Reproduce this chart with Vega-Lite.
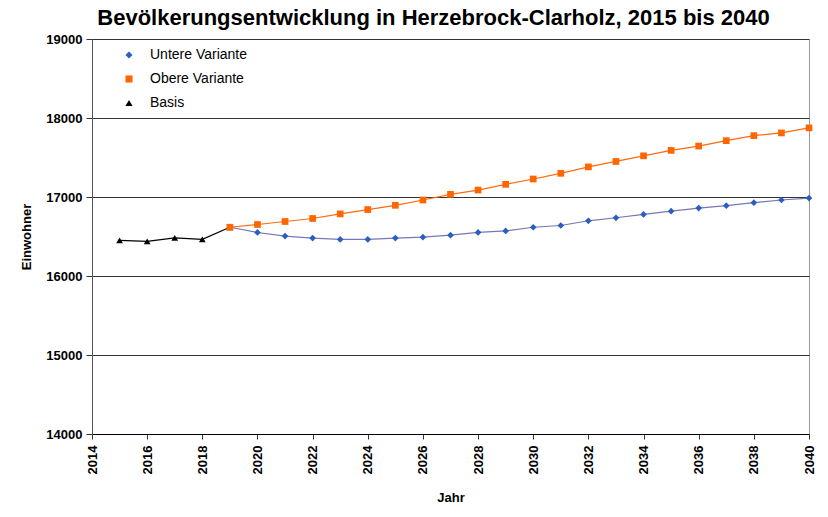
{
  "$schema": "https://vega.github.io/schema/vega-lite/v6.json",
  "width": 717,
  "height": 395,
  "autosize": {"type": "none"},
  "padding": {"left": 92, "top": 39, "right": 19, "bottom": 83},
  "background": "white",
  "title": {
    "text": "Bevölkerungsentwicklung in Herzebrock-Clarholz, 2015 bis 2040",
    "font": "Liberation Sans",
    "fontSize": 22,
    "fontWeight": "bold",
    "color": "#000",
    "anchor": "middle",
    "dx": -17,
    "offset": 3
  },
  "config": {
    "font": "Liberation Sans",
    "view": {"stroke": "#999", "strokeWidth": 1},
    "axis": {
      "labelFont": "Liberation Sans",
      "labelFontWeight": "bold",
      "labelFontSize": 13,
      "labelColor": "#000",
      "titleFont": "Liberation Sans",
      "titleFontWeight": "bold",
      "titleFontSize": 13,
      "titleColor": "#000",
      "domainColor": "#333",
      "tickColor": "#333"
    }
  },
  "data": {
    "values": [
      {"Jahr": 2015, "Serie": "Basis", "Einwohner": 16451},
      {"Jahr": 2016, "Serie": "Basis", "Einwohner": 16438},
      {"Jahr": 2017, "Serie": "Basis", "Einwohner": 16483},
      {"Jahr": 2018, "Serie": "Basis", "Einwohner": 16463},
      {"Jahr": 2019, "Serie": "Basis", "Einwohner": 16617},
      {"Jahr": 2019, "Serie": "Untere Variante", "Einwohner": 16617},
      {"Jahr": 2020, "Serie": "Untere Variante", "Einwohner": 16551},
      {"Jahr": 2021, "Serie": "Untere Variante", "Einwohner": 16505},
      {"Jahr": 2022, "Serie": "Untere Variante", "Einwohner": 16480},
      {"Jahr": 2023, "Serie": "Untere Variante", "Einwohner": 16463},
      {"Jahr": 2024, "Serie": "Untere Variante", "Einwohner": 16463},
      {"Jahr": 2025, "Serie": "Untere Variante", "Einwohner": 16480},
      {"Jahr": 2026, "Serie": "Untere Variante", "Einwohner": 16492},
      {"Jahr": 2027, "Serie": "Untere Variante", "Einwohner": 16517},
      {"Jahr": 2028, "Serie": "Untere Variante", "Einwohner": 16551},
      {"Jahr": 2029, "Serie": "Untere Variante", "Einwohner": 16570},
      {"Jahr": 2030, "Serie": "Untere Variante", "Einwohner": 16617},
      {"Jahr": 2031, "Serie": "Untere Variante", "Einwohner": 16639},
      {"Jahr": 2032, "Serie": "Untere Variante", "Einwohner": 16699},
      {"Jahr": 2033, "Serie": "Untere Variante", "Einwohner": 16737},
      {"Jahr": 2034, "Serie": "Untere Variante", "Einwohner": 16779},
      {"Jahr": 2035, "Serie": "Untere Variante", "Einwohner": 16821},
      {"Jahr": 2036, "Serie": "Untere Variante", "Einwohner": 16860},
      {"Jahr": 2037, "Serie": "Untere Variante", "Einwohner": 16890},
      {"Jahr": 2038, "Serie": "Untere Variante", "Einwohner": 16928},
      {"Jahr": 2039, "Serie": "Untere Variante", "Einwohner": 16962},
      {"Jahr": 2040, "Serie": "Untere Variante", "Einwohner": 16987},
      {"Jahr": 2019, "Serie": "Obere Variante", "Einwohner": 16617},
      {"Jahr": 2020, "Serie": "Obere Variante", "Einwohner": 16652},
      {"Jahr": 2021, "Serie": "Obere Variante", "Einwohner": 16690},
      {"Jahr": 2022, "Serie": "Obere Variante", "Einwohner": 16728},
      {"Jahr": 2023, "Serie": "Obere Variante", "Einwohner": 16786},
      {"Jahr": 2024, "Serie": "Obere Variante", "Einwohner": 16841},
      {"Jahr": 2025, "Serie": "Obere Variante", "Einwohner": 16895},
      {"Jahr": 2026, "Serie": "Obere Variante", "Einwohner": 16962},
      {"Jahr": 2027, "Serie": "Obere Variante", "Einwohner": 17034},
      {"Jahr": 2028, "Serie": "Obere Variante", "Einwohner": 17088},
      {"Jahr": 2029, "Serie": "Obere Variante", "Einwohner": 17160},
      {"Jahr": 2030, "Serie": "Obere Variante", "Einwohner": 17228},
      {"Jahr": 2031, "Serie": "Obere Variante", "Einwohner": 17300},
      {"Jahr": 2032, "Serie": "Obere Variante", "Einwohner": 17381},
      {"Jahr": 2033, "Serie": "Obere Variante", "Einwohner": 17450},
      {"Jahr": 2034, "Serie": "Obere Variante", "Einwohner": 17521},
      {"Jahr": 2035, "Serie": "Obere Variante", "Einwohner": 17590},
      {"Jahr": 2036, "Serie": "Obere Variante", "Einwohner": 17645},
      {"Jahr": 2037, "Serie": "Obere Variante", "Einwohner": 17713},
      {"Jahr": 2038, "Serie": "Obere Variante", "Einwohner": 17777},
      {"Jahr": 2039, "Serie": "Obere Variante", "Einwohner": 17811},
      {"Jahr": 2040, "Serie": "Obere Variante", "Einwohner": 17875}
    ]
  },
  "encoding": {
    "x": {
      "field": "Jahr",
      "type": "quantitative",
      "scale": {"domain": [2014, 2040], "nice": false, "zero": false},
      "axis": {
        "title": "Jahr",
        "values": [2014, 2016, 2018, 2020, 2022, 2024, 2026, 2028, 2030, 2032, 2034, 2036, 2038, 2040],
        "format": "d",
        "labelAngle": -90,
        "grid": false,
        "tickSize": 5,
        "labelPadding": 6,
        "titlePadding": 18,
        "domainColor": "#000"
      }
    },
    "y": {
      "field": "Einwohner",
      "type": "quantitative",
      "scale": {"domain": [14000, 19000], "nice": false, "zero": false},
      "axis": {
        "title": "Einwohner",
        "values": [14000, 15000, 16000, 17000, 18000, 19000],
        "format": "d",
        "grid": true,
        "gridColor": "#333",
        "gridOpacity": 1,
        "tickSize": 6,
        "labelPadding": 4,
        "titlePadding": 12,
        "domainColor": "#555"
      }
    }
  },
  "layer": [
    {
      "transform": [{"filter": "datum.Serie === 'Untere Variante'"}],
      "mark": {"type": "line", "strokeWidth": 1.2, "color": "#7676b8"},
      "encoding": {}
    },
    {
      "transform": [{"filter": "datum.Serie === 'Obere Variante'"}],
      "mark": {"type": "line", "strokeWidth": 1.2, "color": "#ff6a10"},
      "encoding": {}
    },
    {
      "transform": [{"filter": "datum.Serie === 'Basis'"}],
      "mark": {"type": "line", "strokeWidth": 1.2, "color": "#000000"},
      "encoding": {}
    },
    {
      "mark": {"type": "point", "filled": true, "opacity": 1},
      "encoding": {
        "color": {
          "field": "Serie",
          "type": "nominal",
          "scale": {"domain": ["Untere Variante", "Obere Variante", "Basis"], "range": ["#2a5fc0", "#ff6600", "#000000"]},
          "legend": {
            "title": null,
            "orient": "none",
            "legendX": 30,
            "legendY": 9,
            "labelFont": "Liberation Sans",
            "labelFontSize": 14,
            "labelColor": "#000",
            "rowPadding": 10,
            "symbolSize": 50,
            "labelOffset": 14
          }
        },
        "shape": {
          "field": "Serie",
          "type": "nominal",
          "scale": {"domain": ["Untere Variante", "Obere Variante", "Basis"], "range": ["diamond", "square", "triangle-up"]}
        },
        "size": {"value": 45}
      }
    }
  ]
}
